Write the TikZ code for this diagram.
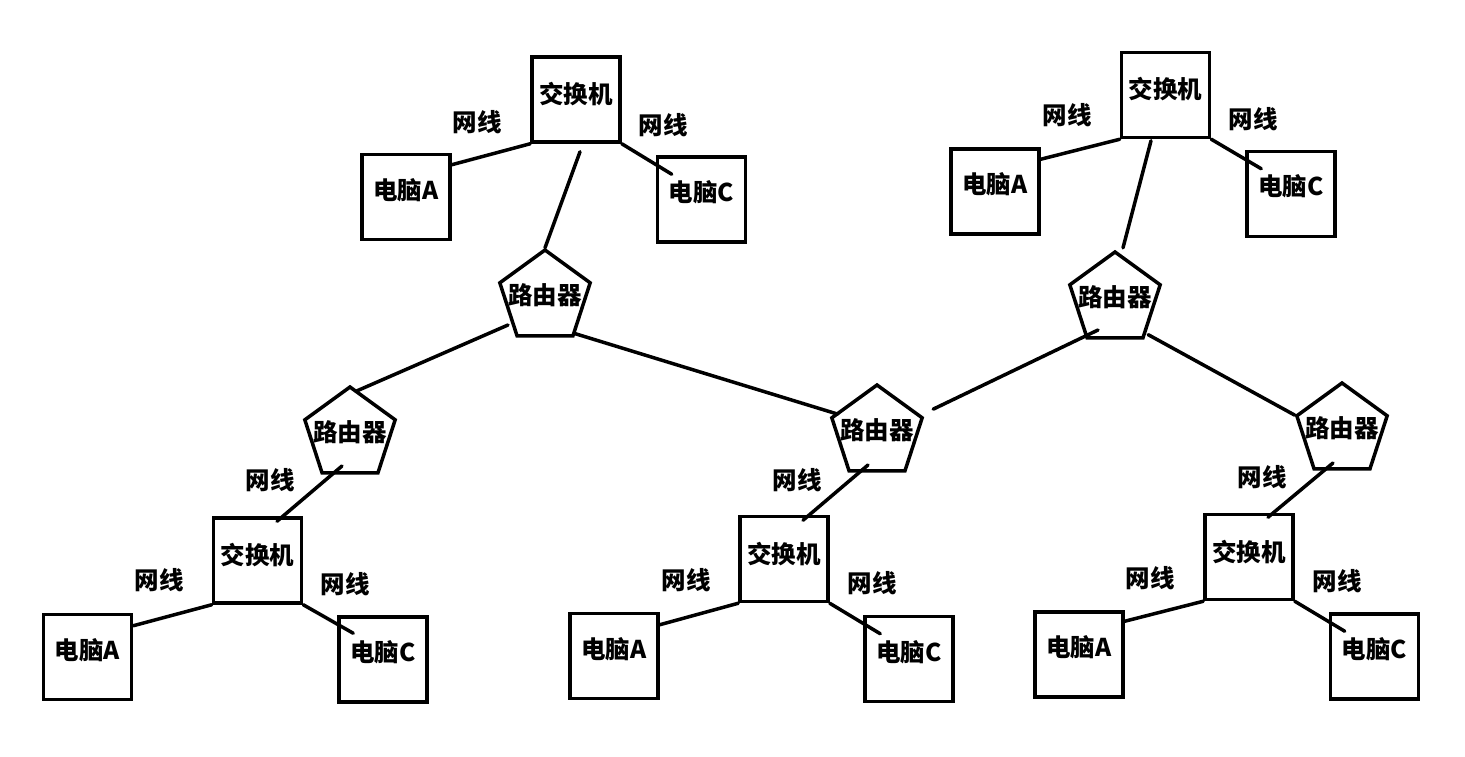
\documentclass[tikz,border=0pt]{standalone}
\usepackage{fontspec}
\setmainfont{Noto Sans CJK SC}
\usetikzlibrary{shapes.geometric,calc}
\tikzset{
  lblfont/.style={font=\fontsize{24.5}{28}\selectfont\bfseries},
  box/.style={draw, line width=3.5pt, minimum width=88pt, minimum height=85pt, inner sep=0pt, lblfont},
  swbox/.style={box, text height=20pt, text depth=12pt},
  pcbox/.style={box, text height=18pt, text depth=14pt},
  router/.style={draw, line width=3.5pt, regular polygon, regular polygon sides=5, minimum size=95pt, inner sep=0pt, text height=13pt, text depth=0pt, lblfont},
  wire/.style={line width=3.5pt, line cap=round},
  lbl/.style={inner sep=0pt, lblfont}
}
\newcommand{\rtext}{\makebox[0pt]{路由器}}
\begin{document}
\begin{tikzpicture}[x=1pt, y=-1pt]
\useasboundingbox (0,0) rectangle (1465,757);
\fill[white] (0,0) rectangle (1465,757);
% top-left cluster
\node[swbox] (sw1) at (576,99.5) {交换机};
\node[pcbox] (pa1) at (406,197) {电脑A};
\node[pcbox] (pc1) at (701.5,199.5) {电脑C};
\node[router] (r1) at (545,297.5) {\rtext};
% bottom-left cluster
\node[router] (r2) at (350,434.5) {\rtext};
\node[swbox] (sw2) at (257.5,560.5) {交换机};
\node[pcbox] (pa2) at (87.5,657) {电脑A};
\node[pcbox] (pc2) at (383,659.5) {电脑C};
% bottom-middle cluster
\node[router] (r3) at (877,432.5) {\rtext};
\node[swbox] (sw3) at (784,559) {交换机};
\node[pcbox] (pa3) at (614,656) {电脑A};
\node[pcbox] (pc3) at (909,659) {电脑C};
% top-right cluster
\node[swbox] (sw4) at (1165.5,95) {交换机};
\node[pcbox] (pa4) at (995,191.5) {电脑A};
\node[pcbox] (pc4) at (1291,194) {电脑C};
\node[router] (r4) at (1115,299.5) {\rtext};
% bottom-right cluster
\node[router] (r5) at (1342,430.5) {\rtext};
\node[swbox] (sw5) at (1249,557) {交换机};
\node[pcbox] (pa5) at (1079,654.5) {电脑A};
\node[pcbox] (pc5) at (1374.5,656.5) {电脑C};
% labels
\node[lbl] (l1) at (477,122) {网线};
\node[lbl] (l2) at (663,125) {网线};
\node[lbl] (l3) at (270,480) {网线};
\node[lbl] (l4) at (159,580) {网线};
\node[lbl] (l5) at (345,584) {网线};
\node[lbl] (l6) at (797,480) {网线};
\node[lbl] (l7) at (686,580) {网线};
\node[lbl] (l8) at (872,583) {网线};
\node[lbl] (l9) at (1067,115) {网线};
\node[lbl] (l10) at (1253,119) {网线};
\node[lbl] (l11) at (1262,477) {网线};
\node[lbl] (l12) at (1150,578) {网线};
\node[lbl] (l13) at (1337,581) {网线};
% connectors: top-left
\draw[wire] ($(pa1.north east)+(0,12)$) -- (sw1.south west);
\draw[wire] (sw1.south east) -- ($(pc1.north west)+(16,19)$);
\draw[wire] ($(sw1.south)+(4,8)$) -- (r1.corner 1);
% router backbone
\draw[wire] ($(r1.center)+(-37,27.5)$) -- ($(r2.corner 1)+(7,6)$);
\draw[wire] ($(r1.corner 4)+(1,-4)$) -- ($(r3.corner 2)+(8,-3)$);
\draw[wire] ($(r3.corner 5)+(9,-8)$) -- ($(r4.center)+(-17,30.5)$);
\draw[wire] ($(r4.corner 4)+(4,-5)$) -- (r5.corner 2);
% top-right
\draw[wire] ($(sw4.south)+(-14.5,1.5)$) -- ($(r4.corner 1)+(8,-2)$);
\draw[wire] ($(pa4.north east)+(0,12)$) -- (sw4.south west);
\draw[wire] (sw4.south east) -- ($(pc4.north west)+(16,19)$);
% bottom-left
\draw[wire] ($(r2.center)+(-8,31.5)$) -- ($(sw2.north)+(19.5,5)$);
\draw[wire] ($(pa2.north east)+(0,13)$) -- (sw2.south west);
\draw[wire] (sw2.south east) -- ($(pc2.north west)+(16,18)$);
% bottom-middle
\draw[wire] ($(r3.center)+(-9,32.5)$) -- ($(sw3.north)+(19,5.5)$);
\draw[wire] ($(pa3.north east)+(0,13)$) -- (sw3.south west);
\draw[wire] (sw3.south east) -- ($(pc3.north west)+(17,19)$);
% bottom-right
\draw[wire] ($(r5.center)+(-9,32.5)$) -- ($(sw5.north)+(19,4.5)$);
\draw[wire] ($(pa5.north east)+(0,11)$) -- (sw5.south west);
\draw[wire] (sw5.south east) -- ($(pc5.north west)+(16,19)$);
\end{tikzpicture}
\end{document}
